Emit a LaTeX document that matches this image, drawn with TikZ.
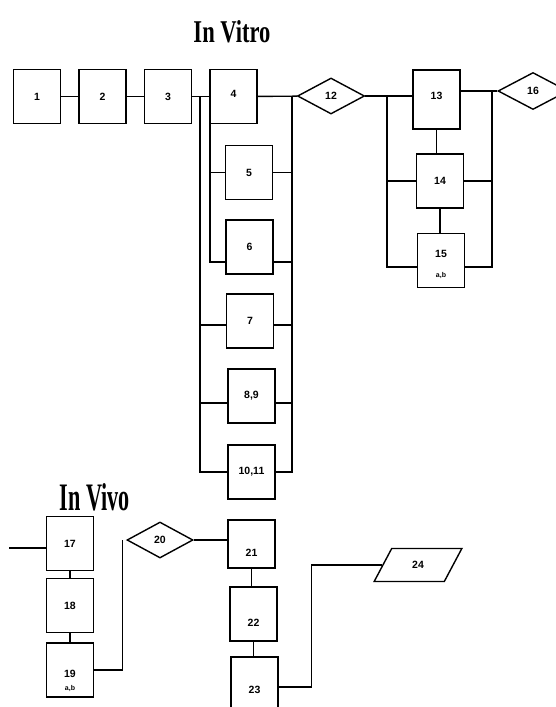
\documentclass[tikz,border=0pt]{standalone}
\usepackage{fontspec}
\setmainfont{Liberation Sans}
\newfontfamily\ttlfont{Liberation Serif}
\usetikzlibrary{shapes.geometric,calc}

\begin{document}
\begin{tikzpicture}[x=1pt,y=-1pt,line width=1.4pt,
  blk/.style={draw,minimum width=47pt,minimum height=54pt,inner sep=1pt,font=\bfseries\fontsize{10.5}{11}\selectfont},
  dmd/.style={draw,diamond,aspect=1.85,minimum width=67pt,minimum height=36pt,inner sep=0pt,font=\bfseries\fontsize{10.5}{11}\selectfont},
  para/.style={draw,trapezium,trapezium left angle=62,trapezium right angle=118,minimum width=88pt,minimum height=28pt,inner sep=0pt,font=\bfseries\fontsize{10.5}{11}\selectfont},
  lowtxt/.style={text height=#1},
  ttl/.style={inner sep=0pt}]
\path[use as bounding box,fill=white] (0,0) rectangle (556,707);
% titles
\node[ttl] (tvitro) at (232,32) {\resizebox{77pt}{22pt}{\ttlfont\bfseries In Vitro}};
\node[ttl] (tvivo) at (95,497) {\resizebox{70pt}{27pt}{\ttlfont\bfseries In Vivo}};
% in vitro
\node[blk] (b1) at (37,96.5) {1};
\node[blk] (b2) at (102.5,96.5) {2};
\node[blk] (b3) at (168,96.5) {3};
\node[blk,lowtxt=1pt] (b4) at (233.5,96.5) {4};
\node[blk] (b5) at (249,172.5) {5};
\node[blk] (b6) at (249.5,247) {6};
\node[blk] (b7) at (250,321) {7};
\node[blk] (b89) at (251.5,396) {8,9};
\node[blk] (b1011) at (251.5,472) {10,11};
\node[dmd] (d12) at (331,96) {12};
\node[blk,minimum height=59pt,lowtxt=1pt] (b13) at (436.5,99.5) {13};
\node[blk] (b14) at (440,181) {14};
\node[blk,align=center,text height=34pt,text depth=0pt] (b15) at (441,260.5) {15\\[9pt]{\fontsize{7}{8}\selectfont a,b}};
\node[dmd,minimum width=70pt,minimum height=37pt] (d16) at (533,91) {16};
\coordinate (vL) at (200,96.5);
\coordinate (vI) at (210,96.5);
\coordinate (vR) at (292,96.5);
\coordinate (wL) at (387,96);
\coordinate (wR) at (492,91);
\draw (b1)--(b2);\draw (b2)--(b3);\draw (b3)--(b4);\draw (b4)--(d12);
\draw (vL) |- (b1011.west);\draw (vR) |- (b1011.east);
\draw (vI) |- ([yshift=-15pt]b6.west);\draw (vI |- b5.west)--(b5.west);
\draw (b5.east) -| (vR);\draw ([yshift=-15pt]b6.east) -| (vR);
\draw ([yshift=-4pt]b7.west) -| (vL);\draw ([yshift=-4pt]b7.east) -| (vR);
\draw ([yshift=-7pt]b89.west) -| (vL);\draw ([yshift=-7pt]b89.east) -| (vR);
\draw (d12.east)--(d12.east -| b13.west);
\draw[line width=2.6pt] (b13.east |- d16.west)--(d16.west);
\draw (b13.south)--(b13.south |- b14.north);\draw (b14.south)--(b14.south |- b15.north);
\draw (wL) |- ([yshift=-6.5pt]b15.west);\draw (wR) |- ([yshift=-6.5pt]b15.east);
\draw (b14.west) -| (wL);\draw (b14.east) -| (wR);
% in vivo
\node[blk] (b17) at (70,543.5) {17};
\node[blk] (b18) at (70,605.5) {18};
\node[blk,align=center,text height=41pt,text depth=0pt] (b19) at (70,670) {19\\[2pt]{\fontsize{7}{8}\selectfont a,b}};
\node[dmd,minimum width=66pt] (d20) at (160,540) {20};
\node[blk,minimum height=48pt,lowtxt=25pt] (b21) at (251.5,544) {21};
\node[blk,lowtxt=25pt] (b22) at (253.5,614) {22};
\node[blk,minimum height=55pt,lowtxt=18pt] (b23) at (254.5,684.5) {23};
\node[para] (p24) at (418,565) {24};
\coordinate (inV) at (9,548);
\draw (inV)--(inV -| b17.west);
\draw (b17)--(b18);\draw (b18)--(b19);
\draw (b19.east) -| ([xshift=-4pt]d20.west);
\draw (d20.east)--(d20.east -| b21.west);
\draw (b21.south)--(b21.south |- b22.north);\draw (b22.south)--(b22.south |- b23.north);
\draw ([yshift=-2.5pt]b23.east) -- ++(33,0) |- (p24.west);
\end{tikzpicture}
\end{document}
